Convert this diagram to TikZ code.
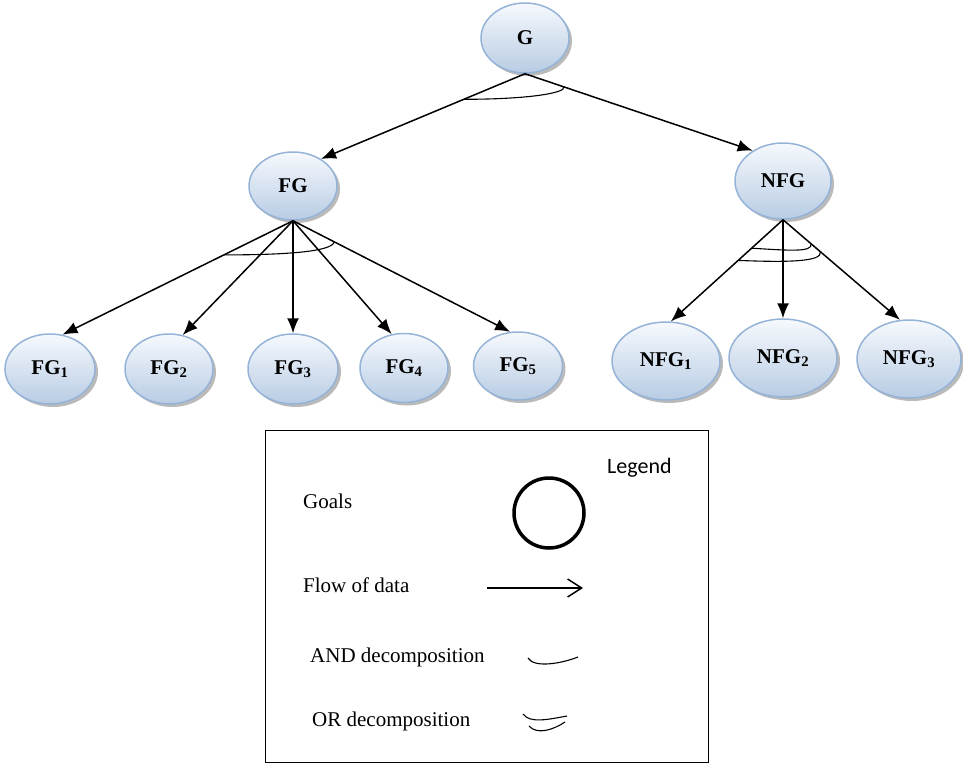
\documentclass[tikz,border=0pt]{standalone}
\usepackage{fontspec}
\setmainfont{Liberation Serif}
\newfontfamily\legendfont{Carlito}
\usetikzlibrary{shapes.geometric,arrows.meta,shadows,calc}
\definecolor{goalborder}{RGB}{149,179,215}
\definecolor{goalbottom}{RGB}{184,204,228}
\definecolor{goaltop}{RGB}{246,249,253}
\begin{document}
\begin{tikzpicture}[x=1pt,y=-1pt,
  goal/.style={ellipse, draw=goalborder, line width=1.5pt, top color=goaltop, bottom color=goalbottom,
    inner sep=0pt, font=\fontsize{21}{21}\selectfont\bfseries,
    drop shadow={shadow xshift=3pt, shadow yshift=-3pt, fill=black!45, opacity=0.6}},
  flow/.style={line width=1.5pt, -{Latex[length=15pt,width=12pt]}},
  deco/.style={line width=1.1pt},
  legtext/.style={anchor=base west, inner sep=0pt, font=\fontsize{21}{21}\selectfont}]
\useasboundingbox (0,0) rectangle (963,763);

% goals
\node[goal, minimum width=88pt, minimum height=70pt] (G) at (525,38) {G};
\node[goal, minimum width=88pt, minimum height=68pt] (FG) at (293,186) {FG};
\node[goal, minimum width=96pt, minimum height=76pt] (NFG) at (783,181) {NFG};

\node[goal, minimum width=90pt, minimum height=70pt] (FG1) at (50,369) {FG\textsubscript{1}};
\node[goal, minimum width=88pt, minimum height=70pt] (FG2) at (169,369) {FG\textsubscript{2}};
\node[goal, minimum width=90pt, minimum height=70pt] (FG3) at (293,369) {FG\textsubscript{3}};
\node[goal, minimum width=88pt, minimum height=69pt] (FG4) at (404,368) {FG\textsubscript{4}};
\node[goal, minimum width=89pt, minimum height=68pt] (FG5) at (518,366) {FG\textsubscript{5}};

\node[goal, minimum width=108pt, minimum height=78pt] (NFG1) at (666,361) {NFG\textsubscript{1}};
\node[goal, minimum width=108pt, minimum height=78pt] (NFG2) at (783,358) {NFG\textsubscript{2}};
\node[goal, minimum width=104pt, minimum height=78pt] (NFG3) at (909,359) {NFG\textsubscript{3}};

% connectors
\draw[flow] (G.south) -- (FG.44);
\draw[flow] (G.south) -- (NFG.135);

\draw[flow] (FG.south) -- (FG1.70);
\draw[flow] (FG.south) -- (FG2.68);
\draw[flow] (FG.south) -- (FG3.north);
\draw[flow] (FG.south) -- (FG4.110);
\draw[flow] (FG.south) -- (FG5.103);

\draw[flow] (NFG.south) -- (NFG1.83);
\draw[flow] (NFG.south) -- (NFG2.north);
\draw[flow] (NFG.south) -- (NFG3.103);

% AND decomposition of G
\coordinate (ga) at ($(G.south)!0.30!(FG.44)$);
\coordinate (gb) at ($(G.south)!0.17!(NFG.135)$);
\draw[deco] (ga) .. controls ($(ga)+(65,0)$) and ($(gb)+(3,6)$) .. (gb);

% AND decomposition of FG
\coordinate (fa) at ($(FG.south)!0.30!(FG1.70)$);
\coordinate (fb) at ($(FG.south)!0.19!(FG5.103)$);
\draw[deco] (fa) .. controls ($(fa)+(60,0)$) and ($(fb)+(-2,10)$) .. (fb);

% OR decomposition of NFG
\coordinate (na) at ($(NFG.south)!0.28!(NFG1.83)$);
\coordinate (nb) at ($(NFG.south)!0.24!(NFG3.103)$);
\coordinate (nc) at ($(NFG.south)!0.40!(NFG1.83)$);
\coordinate (nd) at ($(NFG.south)!0.32!(NFG3.103)$);
\draw[deco] (na) .. controls ($(na)+(35,2)$) and ($(nb)+(2,9)$) .. (nb);
\draw[deco] (nc) .. controls ($(nc)+(50,2)$) and ($(nd)+(2,10)$) .. (nd);

% legend
\node[draw, line width=1pt, minimum width=443pt, minimum height=332pt, inner sep=0pt] (legend) at (486.5,596) {};
\node[anchor=base west, inner sep=0pt, font=\legendfont\fontsize{22}{22}\selectfont] (legtitle) at (607,473) {Legend};

\node[legtext] (lgoals) at (303,508) {Goals};
\node[circle, draw, line width=3.5pt, minimum size=70pt, inner sep=0pt] (lcircle) at (549,513) {};

\node[legtext] (lflow) at (303,592) {Flow of data};
\coordinate (fl1) at (487,588);
\coordinate (fl2) at (583,588);
\draw[line width=1.5pt, -{Straight Barb[length=14pt,width=18pt,line width=1.5pt]}] (fl1) -- (fl2);

\node[legtext] (land) at (310,662) {AND decomposition};
\coordinate (la1) at (528,658);
\coordinate (la2) at (578,657);
\draw[deco] (la1) .. controls (534,668) and (560,664) .. (la2);

\node[legtext] (lor) at (312,726) {OR decomposition};
\coordinate (lo1) at (523,714);
\coordinate (lo2) at (567,716);
\coordinate (lo3) at (529,726);
\coordinate (lo4) at (565,722);
\draw[deco] (lo1) .. controls (530,724) and (550,719) .. (lo2);
\draw[deco] (lo3) .. controls (537,735) and (553,730) .. (lo4);
\end{tikzpicture}
\end{document}
